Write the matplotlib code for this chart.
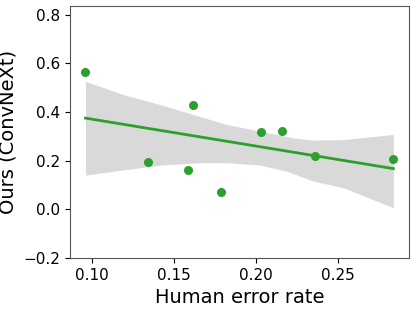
import numpy as np
import matplotlib
matplotlib.use("Agg")
import matplotlib.pyplot as plt

human_error = [0.0959, 0.1343, 0.1585, 0.1612, 0.1785, 0.2032, 0.2160, 0.2362, 0.2837]
ours = [0.563, 0.196, 0.163, 0.428, 0.071, 0.319, 0.322, 0.218, 0.209]

band_x = [0.0959, 0.1191, 0.1415, 0.1618, 0.1821, 0.2024, 0.2228, 0.2350, 0.2533, 0.2837]
band_upper = [0.527, 0.472, 0.431, 0.390, 0.349, 0.322, 0.294, 0.285, 0.287, 0.308]
band_lx = [0.0959, 0.1211, 0.1415, 0.1659, 0.1821, 0.2024, 0.2187, 0.2350, 0.2533, 0.2837]
band_lower = [0.141, 0.164, 0.182, 0.192, 0.192, 0.182, 0.157, 0.116, 0.089, 0.007]

green = "#2ca02c"

fig = plt.figure(figsize=(4.16, 3.09), dpi=100)
ax = fig.add_axes([0.168, 0.165, 0.815, 0.816])

xs = np.linspace(min(human_error), max(human_error), 100)
lo = np.interp(xs, band_lx, band_lower)
hi = np.interp(xs, band_x, band_upper)
ax.fill_between(xs, lo, hi, color="#d9d9d9", linewidth=0, zorder=1)

coef = np.polyfit(human_error, ours, 1)
ax.plot(xs, np.polyval(coef, xs), color=green, lw=2, zorder=2)
ax.scatter(human_error, ours, color=green, s=30, zorder=3)

ax.set_xlim(0.0864, 0.2932)
ax.set_ylim(-0.2, 0.837)
ax.set_xticks([0.10, 0.15, 0.20, 0.25])
ax.set_xticklabels(["0.10", "0.15", "0.20", "0.25"])
ax.set_yticks([-0.2, 0.0, 0.2, 0.4, 0.6, 0.8])
ax.set_yticklabels(["\u22120.2", "0.0", "0.2", "0.4", "0.6", "0.8"])
ax.tick_params(labelsize=11)
ax.set_xlabel("Human error rate", fontsize=14)
ax.set_ylabel("Ours (ConvNeXt)", fontsize=14)
for s in ax.spines.values():
    s.set_color("#555555")

fig.savefig("out.png", dpi=100)
